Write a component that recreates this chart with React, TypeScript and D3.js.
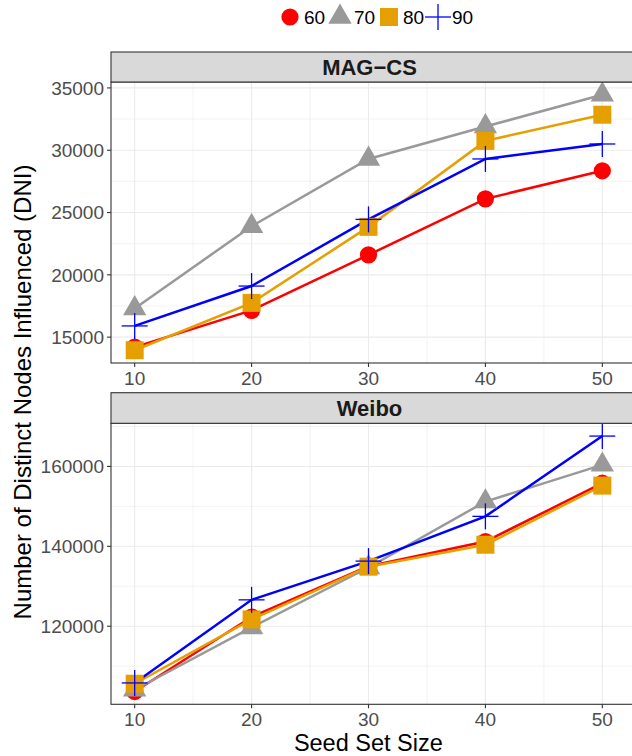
import React from "react";
import * as d3 from "d3";

const seedSizes = [10, 20, 30, 40, 50];
const seriesNames = ["60", "70", "80", "90"];
const seriesColors = ["#FF0000", "#999999", "#E69F00", "#0000FF"];
const seriesShapes = ["circle", "triangle", "square", "cross"];

const magcs60 = [14200, 17150, 21600, 26100, 28350];
const magcs70 = [17300, 23900, 29300, 31900, 34450];
const magcs80 = [13950, 17750, 23850, 30750, 32850];
const magcs90 = [15900, 19100, 24450, 29300, 30500];

const weibo60 = [103650, 122300, 135000, 141200, 155800];
const weibo70 = [104100, 119700, 134700, 151200, 160400];
const weibo80 = [105600, 121700, 134900, 140400, 155200];
const weibo90 = [105800, 126600, 136300, 147500, 167600];

const magcsTicks = [15000, 20000, 25000, 30000, 35000];
const magcsMinor = [17500, 22500, 27500, 32500];
const weiboTicks = [120000, 140000, 160000];
const weiboMinor = [110000, 130000, 150000, 170000];
const xMinor = [15, 25, 35, 45];

const panels = [
  { title: "MAG\u2212CS", series: [magcs60, magcs70, magcs80, magcs90], ticks: magcsTicks, minor: magcsMinor, stripTop: 52, top: 82, bottom: 363 },
  { title: "Weibo", series: [weibo60, weibo70, weibo80, weibo90], ticks: weiboTicks, minor: weiboMinor, stripTop: 392.7, top: 423.3, bottom: 704.3 },
];

const FONT = "'Liberation Sans', Arial, Helvetica, sans-serif";
const PL = 111;
const PR = 660;

const x = d3.scaleLinear().domain([8, 52]).range([111.3, 625.7]);

function Marker({ shape, color, cx, cy }: { shape: string; color: string; cx: number; cy: number }) {
  if (shape === "circle") return <circle cx={cx} cy={cy} r={8.6} fill={color} />;
  if (shape === "square") return <rect x={cx - 9} y={cy - 9} width={18} height={18} fill={color} />;
  if (shape === "triangle") {
    const p = d3.symbol().type(d3.symbolTriangle).size(235)();
    return <path d={p || ""} transform={`translate(${cx},${cy})`} fill={color} />;
  }
  return (
    <g stroke={color} strokeWidth={1.3}>
      <line x1={cx - 13} x2={cx + 13} y1={cy} y2={cy} />
      <line x1={cx} x2={cx} y1={cy - 13} y2={cy + 13} />
    </g>
  );
}

function Panel({ p }: { p: typeof panels[number] }) {
  const all = p.series.flat();
  const mn = d3.min(all) as number;
  const mx = d3.max(all) as number;
  const pad = (mx - mn) * 0.05;
  const y = d3.scaleLinear().domain([mn - pad, mx + pad]).range([p.bottom, p.top]);
  const line = d3
    .line<number>()
    .x((_, i) => x(seedSizes[i]))
    .y((d) => y(d));
  return (
    <g>
      <rect x={PL} y={p.top} width={PR - PL} height={p.bottom - p.top} fill="#FFFFFF" />
      {p.minor.map((v) => (
        <line key={"ym" + v} x1={PL} x2={PR} y1={y(v)} y2={y(v)} stroke="#EBEBEB" strokeWidth={0.6} />
      ))}
      {xMinor.map((v) => (
        <line key={"xm" + v} x1={x(v)} x2={x(v)} y1={p.top} y2={p.bottom} stroke="#EBEBEB" strokeWidth={0.6} />
      ))}
      {p.ticks.map((v) => (
        <line key={"yM" + v} x1={PL} x2={PR} y1={y(v)} y2={y(v)} stroke="#EBEBEB" strokeWidth={1.1} />
      ))}
      {seedSizes.map((v) => (
        <line key={"xM" + v} x1={x(v)} x2={x(v)} y1={p.top} y2={p.bottom} stroke="#EBEBEB" strokeWidth={1.1} />
      ))}
      {p.series.map((s, i) => (
        <path key={"l" + i} d={line(s) || ""} fill="none" stroke={seriesColors[i]} strokeWidth={2.5} />
      ))}
      {p.series.map((s, i) =>
        s.map((v, j) => (
          <Marker key={`m${i}-${j}`} shape={seriesShapes[i]} color={seriesColors[i]} cx={x(seedSizes[j])} cy={y(v)} />
        ))
      )}
      <rect x={PL} y={p.top} width={PR - PL} height={p.bottom - p.top} fill="none" stroke="#333333" strokeWidth={1.1} />
      <rect x={PL} y={p.stripTop} width={PR - PL} height={p.top - p.stripTop} fill="#D9D9D9" stroke="#333333" strokeWidth={1.1} />
      <text x={(PL + 628) / 2} y={(p.stripTop + p.top) / 2} dy="0.36em" textAnchor="middle" fontFamily={FONT} fontWeight="bold" fontSize={22} fill="#1A1A1A">
        {p.title}
      </text>
      {p.ticks.map((v) => (
        <g key={"yt" + v}>
          <line x1={PL - 4} x2={PL} y1={y(v)} y2={y(v)} stroke="#333333" strokeWidth={1.1} />
          <text x={PL - 7} y={y(v)} dy="0.36em" textAnchor="end" fontFamily={FONT} fontSize={19} fill="#4D4D4D">
            {v}
          </text>
        </g>
      ))}
      {seedSizes.map((v) => (
        <g key={"xt" + v}>
          <line x1={x(v)} x2={x(v)} y1={p.bottom} y2={p.bottom + 4} stroke="#333333" strokeWidth={1.1} />
          <text x={x(v)} y={p.bottom + 15} dy="0.36em" textAnchor="middle" fontFamily={FONT} fontSize={19} fill="#4D4D4D">
            {v}
          </text>
        </g>
      ))}
    </g>
  );
}

const legendX = [290, 340, 389, 438];

export default function App() {
  return (
    <svg width={632} height={756} style={{ position: "absolute", left: 0, top: 0, background: "#FFFFFF" }}>
      <rect x={0} y={0} width={632} height={756} fill="#FFFFFF" />
      {panels.map((p) => (
        <Panel key={p.title} p={p} />
      ))}
      {seriesNames.map((n, i) => (
        <g key={"lg" + n}>
          <Marker shape={seriesShapes[i]} color={seriesColors[i]} cx={legendX[i]} cy={17} />
          <text x={legendX[i] + 14} y={17} dy="0.36em" fontFamily={FONT} fontSize={19} fill="#000000">
            {n}
          </text>
        </g>
      ))}
      <text x={(111 + 625.7) / 2} y={751} textAnchor="middle" fontFamily={FONT} fontSize={23.5} fill="#000000">
        Seed Set Size
      </text>
      <text transform={`translate(31,392) rotate(-90)`} textAnchor="middle" fontFamily={FONT} fontSize={24} fill="#000000">
        Number of Distinct Nodes Influenced (DNI)
      </text>
    </svg>
  );
}
